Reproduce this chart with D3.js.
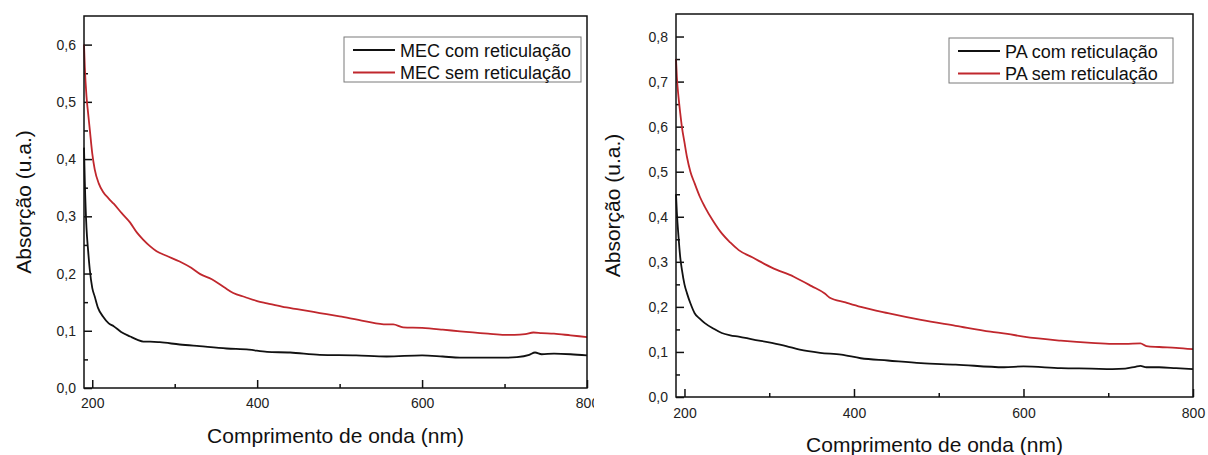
<!DOCTYPE html>
<html>
<head>
<meta charset="utf-8">
<script src="https://cdn.jsdelivr.net/npm/d3@7"></script>
<style>
  html, body { margin: 0; padding: 0; background: #fff; }
  svg { display: block; font-family: "Liberation Sans", Arial, sans-serif; }
</style>
</head>
<body>
<svg id="chart" width="1208" height="455"></svg>
<script>
// ---------- DATA ----------
const xTickLabels = [200, 400, 600, 800];
const xMinorTicks = [300, 500, 700];
const leftYTicks = [0, 0.1, 0.2, 0.3, 0.4, 0.5, 0.6];
const rightYTicks = [0, 0.1, 0.2, 0.3, 0.4, 0.5, 0.6, 0.7, 0.8];

const legendLeft = ["MEC com reticulação", "MEC sem reticulação"];
const legendRight = ["PA com reticulação", "PA sem reticulação"];
const xTitle = "Comprimento de onda (nm)";
const yTitle = "Absorção (u.a.)";

// MEC com reticulação (black)
const mecComWl = [190, 191, 193, 195, 197, 200, 203, 207, 213, 220, 226, 235, 246, 255, 262, 270, 282, 306, 330, 363, 390, 412, 440, 476, 520, 557, 600, 625, 646, 675, 700, 715, 730, 737, 745, 760, 780, 800];
const mecComAbs = [0.42, 0.36, 0.28, 0.24, 0.207, 0.175, 0.16, 0.14, 0.125, 0.113, 0.108, 0.098, 0.090, 0.084, 0.081, 0.081, 0.080, 0.076, 0.073, 0.069, 0.067, 0.063, 0.062, 0.058, 0.057, 0.055, 0.057, 0.055, 0.053, 0.053, 0.053, 0.054, 0.058, 0.062, 0.059, 0.060, 0.059, 0.057];

// MEC sem reticulação (red)
const mecSemWl = [190, 191, 193, 195, 197, 200, 203, 208, 213, 220, 226, 236, 246, 254, 262, 270, 278, 290, 306, 320, 331, 345, 360, 371, 385, 400, 412, 430, 452, 476, 500, 530, 557, 565, 577, 600, 625, 646, 680, 700, 712, 725, 735, 745, 760, 780, 800];
const mecSemAbs = [0.60, 0.56, 0.51, 0.48, 0.452, 0.41, 0.382, 0.357, 0.343, 0.331, 0.322, 0.305, 0.289, 0.272, 0.259, 0.248, 0.239, 0.231, 0.221, 0.21, 0.199, 0.19, 0.176, 0.166, 0.159, 0.152, 0.148, 0.142, 0.137, 0.131, 0.125, 0.117, 0.111, 0.111, 0.106, 0.105, 0.102, 0.099, 0.095, 0.093, 0.093, 0.094, 0.097, 0.096, 0.095, 0.092, 0.089];

// PA com reticulação (black)
const paComWl = [190, 191, 193, 195, 197, 200, 203, 207, 212, 218, 224, 234, 244, 254, 264, 280, 303, 320, 336, 360, 385, 408, 440, 479, 520, 577, 600, 644, 680, 705, 720, 732, 738, 745, 760, 780, 800];
const paComAbs = [0.45, 0.41, 0.355, 0.31, 0.282, 0.25, 0.23, 0.208, 0.186, 0.174, 0.164, 0.152, 0.142, 0.137, 0.134, 0.128, 0.12, 0.113, 0.105, 0.098, 0.094, 0.086, 0.081, 0.075, 0.072, 0.066, 0.068, 0.064, 0.063, 0.062, 0.063, 0.067, 0.069, 0.066, 0.066, 0.064, 0.062];

// PA sem reticulação (red)
const paSemWl = [190, 191, 193, 195, 197, 200, 203, 207, 212, 218, 224, 234, 244, 254, 264, 280, 303, 329, 350, 366, 371, 390, 408, 440, 479, 520, 561, 581, 600, 644, 680, 705, 720, 738, 745, 760, 780, 800];
const paSemAbs = [0.75, 0.71, 0.665, 0.63, 0.599, 0.565, 0.532, 0.50, 0.474, 0.445, 0.422, 0.39, 0.363, 0.343, 0.326, 0.31, 0.287, 0.267, 0.246, 0.229, 0.221, 0.21, 0.20, 0.186, 0.171, 0.158, 0.145, 0.140, 0.134, 0.125, 0.12, 0.118, 0.118, 0.119, 0.113, 0.111, 0.109, 0.106];

const xDomain = [190, 800];
const leftYDomain = [0, 0.65];
const rightYDomain = [0, 0.85];

// ---------- DRAW ----------
const svg = d3.select("#chart");
const BLACK = "#111";
const RED = "#c0272d";
const fmt = d => d3.format(".1f")(d).replace(".", ",");

svg.append("defs").append("clipPath").attr("id", "leftClip")
  .append("rect").attr("x", 0).attr("y", 0).attr("width", 594).attr("height", 455);

function panel(cfg) {
  const g = svg.append("g");
  if (cfg.clip) g.attr("clip-path", "url(#leftClip)");
  const x = d3.scaleLinear().domain(xDomain).range([cfg.x0, cfg.x1]);
  const y = d3.scaleLinear().domain(cfg.yDomain).range([cfg.y1, cfg.y0]);

  const yMinor = d3.range(0.05, cfg.yDomain[1], 0.1).map(v => +v.toFixed(2));

  const axisStyle = sel => {
    sel.select(".domain").remove();
    sel.selectAll("line").attr("stroke", BLACK).attr("stroke-width", 1.5);
    sel.selectAll("text").attr("fill", "#222").style("font-size", "14px")
      .style("font-family", "'Liberation Sans', Arial, sans-serif");
  };

  g.append("g").attr("transform", `translate(0,${cfg.y1})`)
    .call(d3.axisBottom(x).tickValues(xTickLabels).tickSize(-8).tickPadding(cfg.xPad).tickFormat(d3.format("d")))
    .call(axisStyle);
  g.append("g").attr("transform", `translate(0,${cfg.y1})`)
    .call(d3.axisBottom(x).tickValues(xMinorTicks).tickSize(-4).tickFormat(""))
    .call(axisStyle);
  g.append("g").attr("transform", `translate(${cfg.x0},0)`)
    .call(d3.axisLeft(y).tickValues(cfg.yTicks).tickSize(-8).tickPadding(8).tickFormat(fmt))
    .call(axisStyle);
  g.append("g").attr("transform", `translate(${cfg.x0},0)`)
    .call(d3.axisLeft(y).tickValues(yMinor).tickSize(-4).tickFormat(""))
    .call(axisStyle);

  const line = d3.line().x(d => x(d[0])).y(d => y(d[1])).curve(d3.curveMonotoneX);
  cfg.series.forEach(s => {
    const pts = s.wl.map((w, i) => [w, s.abs[i]]);
    g.append("path").attr("d", line(pts)).attr("fill", "none")
      .attr("stroke", s.color).attr("stroke-width", 1.8).attr("stroke-linejoin", "round");
  });

  g.append("rect").attr("x", cfg.x0).attr("y", cfg.y0)
    .attr("width", cfg.x1 - cfg.x0).attr("height", cfg.y1 - cfg.y0)
    .attr("fill", "none").attr("stroke", BLACK).attr("stroke-width", 1.5);

  const L = cfg.legend;
  g.append("rect").attr("x", L.x).attr("y", L.y).attr("width", L.w).attr("height", L.h)
    .attr("fill", "#fff").attr("stroke", "#7a7a7a").attr("stroke-width", 1);
  cfg.series.forEach((s, i) => {
    const ly = L.y + 13 + i * 22.5;
    g.append("line").attr("x1", L.x + 9).attr("x2", L.x + 51).attr("y1", ly).attr("y2", ly)
      .attr("stroke", s.color).attr("stroke-width", 1.8);
    g.append("text").attr("x", L.x + 56).attr("y", ly + 6.5).text(s.name)
      .attr("fill", "#111").style("font-size", "18px");
  });

  g.append("text").attr("x", (cfg.x0 + cfg.x1) / 2).attr("y", cfg.xTitleY)
    .attr("text-anchor", "middle").style("font-size", "21px").attr("fill", "#111").text(xTitle);
  g.append("text").attr("transform", `translate(${cfg.yTitleX},${(cfg.y0 + cfg.y1) / 2}) rotate(-90)`)
    .attr("text-anchor", "middle").style("font-size", "21px").attr("fill", "#111").text(yTitle);
}

panel({
  x0: 84, x1: 587, y0: 16, y1: 388, yDomain: leftYDomain, yTicks: leftYTicks, xPad: 10, clip: true,
  xTitleY: 443, yTitleX: 31,
  legend: { x: 344, y: 37, w: 237, h: 45 },
  series: [
    { name: legendLeft[0], wl: mecComWl, abs: mecComAbs, color: BLACK },
    { name: legendLeft[1], wl: mecSemWl, abs: mecSemAbs, color: RED }
  ]
});

panel({
  x0: 676, x1: 1193, y0: 14, y1: 397, yDomain: rightYDomain, yTicks: rightYTicks, xPad: 11, clip: false,
  xTitleY: 452, yTitleX: 620,
  legend: { x: 949, y: 38, w: 224, h: 45 },
  series: [
    { name: legendRight[0], wl: paComWl, abs: paComAbs, color: BLACK },
    { name: legendRight[1], wl: paSemWl, abs: paSemAbs, color: RED }
  ]
});
</script>
</body>
</html>
